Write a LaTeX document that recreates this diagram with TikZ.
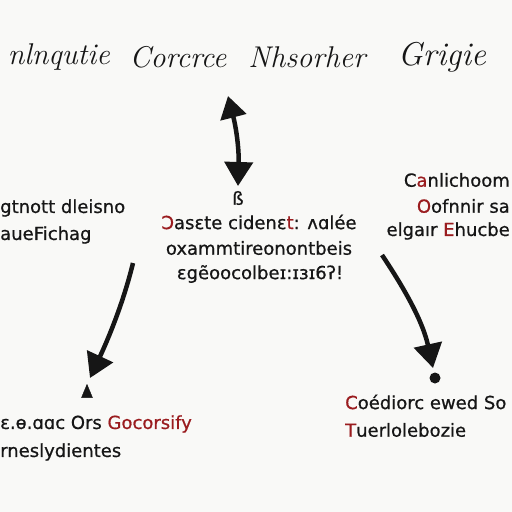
\documentclass[tikz,border=0pt]{standalone}
\usepackage{fontspec}
\setsansfont[FakeBold=0.7]{DejaVu Sans}
\usetikzlibrary{arrows.meta,shapes.geometric}
\definecolor{bg}{HTML}{F9F9F7}
\definecolor{ink}{HTML}{161616}
\definecolor{rd}{HTML}{9A1C1F}
\tikzset{
  lbl/.style={inner sep=0pt, text=ink, font=\sffamily\fontsize{18}{18}\selectfont},
  ttl/.style={inner sep=0pt, text=ink, font=\itshape\fontsize{30}{30}\selectfont},
  bigarrow/.style={draw=ink, line width=4.5pt, -{Triangle[length=24pt,width=28pt]}},
  dbl/.style={draw=ink, line width=4.5pt, {Triangle[length=22pt,width=26pt]}-{Triangle[length=24pt,width=28pt]}}
}
\begin{document}
\begin{tikzpicture}[x=1pt,y=-1pt]
\fill[bg] (0,0) rectangle (512,512);
\useasboundingbox (0,0) rectangle (512,512);
% title
\node[ttl, anchor=east] (t1) at (110,57) {nlnqutie};
\node[ttl] (t2) at (178,57) {Corcrce};
\node[ttl] (t3) at (307,57) {Nhsorher};
\node[ttl, font=\itshape\fontsize{33}{33}\selectfont] (t4) at (442,57) {Grigie};
% double arrow
\coordinate (da) at (228,96);
\coordinate (db) at (238,186);
\draw[dbl] (da) to[bend left=8] (db);
\node[lbl] (s) at (238,198) {ß};
% centre text
\node[lbl] (c1) at (259,222) {\textcolor{rd}{Ɔ}asɛte cidenɛ\textcolor{rd}{t}: ʌɑlée};
\node[lbl] (c2) at (259,248) {oxammtireonontbeis};
\node[lbl] (c3) at (260,274) {ɛgẽoocolbeɪ:ɪɜɪ6ʔ!};
% left text
\node[lbl, anchor=west] (l1) at (0,208) {gtnott dleisno};
\node[lbl, anchor=west] (l2) at (0,235) {aueFichag};
% right text
\node[lbl, anchor=east] (r1) at (510,180) {C\textcolor{rd}{a}nlichoom};
\node[lbl, anchor=east] (r2) at (510,206) {\textcolor{rd}{O}ofnnir sa};
\node[lbl, anchor=east] (r3) at (510,231) {elgaır \textcolor{rd}{E}hucbe};
% left arrow
\coordinate (la) at (133,263);
\coordinate (lb) at (90,378);
\draw[bigarrow] (la) .. controls (124,300) and (110,335) .. (lb);
\node[fill=ink, draw=ink, line join=round, isosceles triangle, shape border rotate=90, inner sep=0pt, minimum width=11pt, minimum height=12pt] (lt) at (87,394) {};
% right arrow
\coordinate (ra) at (382,255);
\coordinate (rb) at (433,368);
\draw[bigarrow] (ra) .. controls (400,282) and (422,318) .. (rb);
\node[circle, fill=ink, inner sep=0pt, minimum size=11pt] (rd) at (435,378) {};
% bottom left
\node[lbl, anchor=west] (bl1) at (0,424) {ɛ.ɵ.ɑɑc Ors \textcolor{rd}{Gocorsify}};
\node[lbl, anchor=west] (bl2) at (0,452) {rneslydientes};
% bottom right
\node[lbl, anchor=west] (br1) at (345,402) {\textcolor{rd}{C}oédiorc ewed So};
\node[lbl, anchor=west] (br2) at (345,430) {\textcolor{rd}{T}uerlolebozie};
\end{tikzpicture}
\end{document}
